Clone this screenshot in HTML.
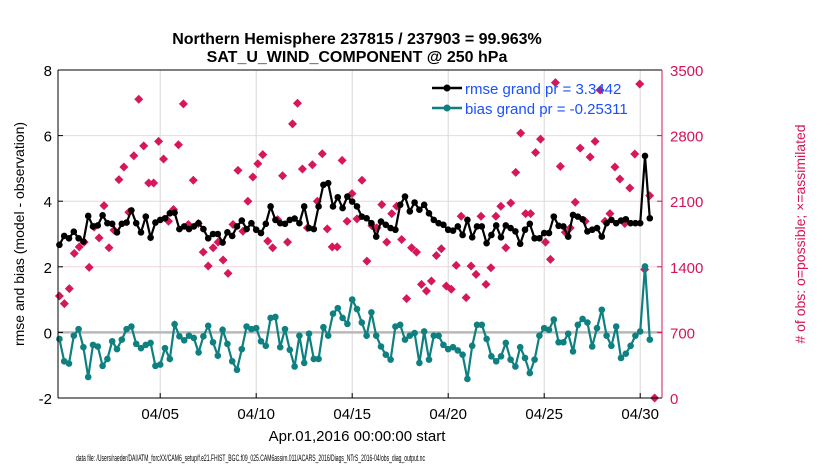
<!DOCTYPE html>
<html><head><meta charset="utf-8"><style>
html,body{margin:0;padding:0;background:#fff;}
svg{display:block;font-family:"Liberation Sans",sans-serif;}
</style></head><body>
<svg id="chart" width="830" height="470">
<text x="357" y="44" text-anchor="middle" font-size="16" font-weight="bold">Northern Hemisphere 237815 / 237903 = 99.963%</text>
<text x="357" y="62" text-anchor="middle" font-size="16" font-weight="bold">SAT_U_WIND_COMPONENT @ 250 hPa</text>
<g id="grid"></g>
<g id="marks"></g>
<g id="axes"></g>
<g id="legend">
<g>
<line x1="432" y1="88" x2="462" y2="88" stroke="#000" stroke-width="2.5"/><circle cx="447" cy="88" r="3.5" fill="#000"/>
<text x="465" y="94" font-size="15" fill="#1a50ff">rmse grand pr = 3.3442</text></g>
<g>
<line x1="432" y1="108" x2="462" y2="108" stroke="#0f8080" stroke-width="2.5"/><circle cx="447" cy="108" r="3.5" fill="#0f8080"/>
<text x="465" y="114" font-size="15" fill="#1a50ff">bias grand pr = -0.25311</text></g>
</g>
<text transform="translate(24,234) rotate(-90)" text-anchor="middle" font-size="14">rmse and bias (model - observation)</text>
<text transform="translate(805,234) rotate(-90)" text-anchor="middle" font-size="14" fill="#d4145a"># of obs: o=possible; ×=assimilated</text>
<text x="357" y="441" text-anchor="middle" font-size="15">Apr.01,2016 00:00:00 start</text>
<text x="76" y="461" font-size="9" textLength="349" lengthAdjust="spacingAndGlyphs">data file: /Users/raeder/DAI/ATM_forcXX/CAM6_setup/f.e21.FHIST_BGC.f09_025.CAM6assim.011/ACARS_2016/Diags_NTrS_2016-04/obs_diag_output.nc</text>
</svg>
<script>
const rmse=[2.67,2.94,2.87,3.07,2.87,2.77,3.55,3.23,3.26,3.57,3.33,3.31,3.05,3.31,3.35,3.72,3.33,3.05,3.53,2.89,3.35,3.43,3.48,3.63,3.65,3.15,3.23,3.15,3.23,3.33,3.15,2.87,3.0,3.0,2.74,3.05,2.94,3.23,3.41,3.15,3.33,3.13,3.03,3.31,3.84,3.43,3.33,3.31,3.43,3.47,3.33,3.84,3.18,3.15,3.84,4.5,4.55,3.84,4.12,3.79,4.14,3.99,3.84,3.53,3.48,3.33,2.92,3.38,3.28,3.18,3.13,3.89,4.14,3.69,3.96,3.74,3.89,3.63,3.43,3.33,3.28,3.13,3.1,3.23,2.97,3.43,2.90,3.23,3.23,2.72,2.97,3.26,2.90,3.26,3.18,3.08,2.70,3.13,3.31,2.87,2.87,3.03,3.03,3.53,3.25,3.23,2.92,3.58,3.53,3.45,3.08,3.13,3.18,2.92,3.33,3.43,3.33,3.41,3.45,3.33,3.33,3.33,5.38,3.48];
const bias=[-0.2,-0.88,-0.95,-0.1,0.1,-0.45,-1.36,-0.38,-0.43,-1.02,-0.81,-0.27,-0.51,-0.22,0.1,0.18,-0.35,-0.48,-0.38,-0.32,-1.02,-0.98,-0.48,-0.81,0.25,-0.12,-0.24,-0.1,-0.17,-0.61,-0.12,0.2,-0.3,-0.71,0.08,-0.35,-0.88,-1.14,-0.51,0.18,0.1,0.13,-0.27,-0.41,0.44,0.47,-0.45,0.1,-0.53,-1.04,-0.1,-0.93,-0.04,-0.81,-0.81,0.16,-0.1,0.57,0.74,0.44,0.26,1.0,0.71,0.3,-0.1,0.61,-0.1,-0.43,-0.68,-0.83,0.18,0.23,-0.22,-0.1,-0.02,-0.93,0.03,-0.83,-0.1,-0.1,-0.38,-0.51,-0.45,-0.55,-0.68,-1.42,-0.41,0.23,0.23,-0.2,-0.73,-0.88,-0.73,-0.32,-0.83,-1.04,-0.45,-0.78,-1.24,-0.83,-0.1,0.13,0.08,0.39,-0.3,-0.3,-0.04,-0.58,0.23,0.41,0.3,-0.43,0.13,0.69,-0.1,-0.41,0.18,-0.78,-0.65,-0.41,-0.1,0.03,2.01,-0.22];
const obsCount=[1089,1007,1167,1543,1613,1663,1394,1823,1709,2053,1603,1791,2330,2465,1982,2585,3188,2691,2294,2294,2738,2550,1886,2011,2702,3138,1851,2323,1862,1557,1408,1603,1663,1472,1330,1851,2429,1780,2099,2358,2500,2597,1674,1603,1904,2372,1663,2925,3145,2443,1816,2489,2099,2606,1805,1613,1613,2535,1886,2181,1911,2323,1461,1840,1816,2064,1663,1968,2046,1691,1060,1603,1557,1213,1142,1248,1521,1592,1195,1160,1415,1940,1071,1408,1319,1940,1213,1390,1940,2046,1603,2081,2408,2826,1968,1968,2620,2762,1663,1479,3365,2472,1769,1816,2089,2667,1886,2571,2738,3287,1886,1968,2465,2337,1862,2241,2603,3351,1372,2160,0];
const leftTicks=[-2,0,2,4,6,8];
const rightTicks=[0,700,1400,2100,2800,3500];
const xTickDays=[5,10,15,20,25,30];
const xTickLabels=["04/05","04/10","04/15","04/20","04/25","04/30"];

const NS="http://www.w3.org/2000/svg";
const L=58,R=662,T=70,B=398;
const xHour=h=>64.2+h*0.8;
const yL=v=>B-(v+2)/10*(B-T);
const yR=v=>B-v/3500*(B-T);
const timeStep=6, obsStep=6*124/120;
function mk(tag,attrs,parent){const e=document.createElementNS(NS,tag);for(const k in attrs)e.setAttribute(k,attrs[k]);parent.appendChild(e);return e;}
const grid=document.getElementById('grid'),marks=document.getElementById('marks'),axes=document.getElementById('axes');

xTickDays.forEach((d,i)=>{const x=xHour(d*24);
 const g=mk('line',{x1:x,y1:T,x2:x,y2:B,stroke:'#d8d8d8','stroke-width':1},grid);
 
 
 const t=mk('text',{x:x,y:419,'text-anchor':'middle','font-size':15},axes);t.textContent=xTickLabels[i];
 
 
 mk('line',{x1:x,y1:B,x2:x,y2:B-5,stroke:'#000'},axes);
});
leftTicks.forEach(v=>{const y=yL(v);
 if(v>-2&&v<8&&v!==0){const g=mk('line',{x1:L,y1:y,x2:R,y2:y,stroke:'#f0d4de','stroke-width':1},grid);
  
  }
 const t=mk('text',{x:52,y:y+6,'text-anchor':'end','font-size':15},axes);t.textContent=v;
 
 
 mk('line',{x1:L,y1:y,x2:L+5,y2:y,stroke:'#000'},axes);
});
rightTicks.forEach(v=>{const y=yR(v);
 const t=mk('text',{x:670,y:y+6,'font-size':15,fill:'#d4145a'},axes);t.textContent=v;
 
 
 mk('line',{x1:R,y1:y,x2:R-5,y2:y,stroke:'#d4145a'},axes);
});
const zl=mk('line',{x1:L,y1:yL(0),x2:R,y2:yL(0),stroke:'#b8b8b8','stroke-width':2.5},grid);



obsCount.forEach((c,j)=>{if(c==null)return;const x=xHour(-6+j*obsStep),y=yR(c);
 const p=mk('path',{d:`M${x} ${y-4.5}L${x+4.5} ${y}L${x} ${y+4.5}L${x-4.5} ${y}Z`,fill:'#d6175c'},marks);
 
 
});
function series(arr,color,name){
 const pts=arr.map((v,i)=>[xHour(-6+i*timeStep),yL(v)]);
 const pl=mk('polyline',{points:pts.map(p=>p.join(',')).join(' '),fill:'none',stroke:color,'stroke-width':2.2},marks);
 
 
 pts.forEach(p=>{const c=mk('circle',{cx:p[0],cy:p[1],r:3.3,fill:color},marks);
  
  });
}
series(bias,'#0f8080','bias');
series(rmse,'#000000','rmse');

mk('line',{x1:L,y1:T,x2:L,y2:B,stroke:'#000'},axes);
mk('line',{x1:L,y1:B,x2:R,y2:B,stroke:'#000'},axes);
mk('line',{x1:L,y1:T,x2:R,y2:T,stroke:'#000'},axes);
mk('line',{x1:R,y1:T,x2:R,y2:B,stroke:'#d4145a'},axes);
</script>
</body></html>
